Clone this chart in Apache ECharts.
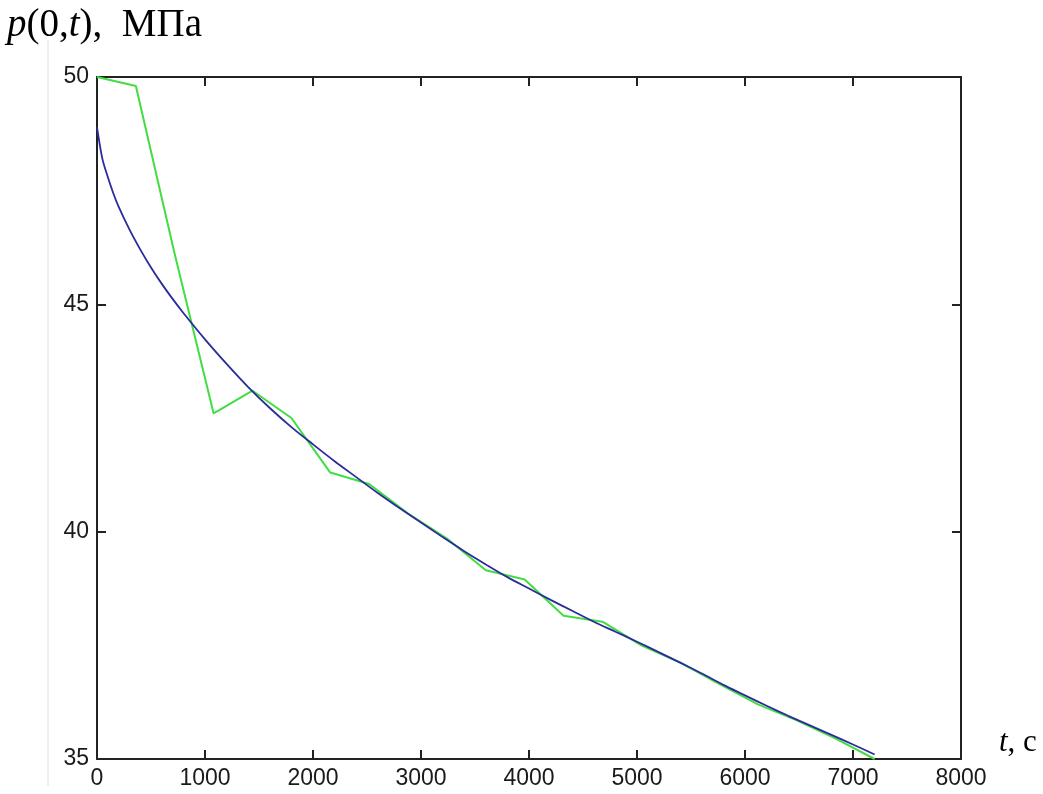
<!DOCTYPE html>
<html><head><meta charset="utf-8">
<script src="https://cdn.jsdelivr.net/npm/echarts@6/dist/echarts.min.js"></script>
<style>html,body{margin:0;padding:0;background:#fff}#c{width:1043px;height:794px}</style>
</head><body><div id="c"></div>
<script>
const xTicks = [0,1000,2000,3000,4000,5000,6000,7000,8000];
const yTicks = [35,40,45,50];
// blue curve (model)
const blueT = [0,50,100,150,200,300,400,500,600,700,800,1000,1200,1400,1600,1800,2000,2200,2400,2600,2800,3000,3200,3400,3600,3800,4000,4200,4400,4600,4800,5000,5200,5400,5600,5800,6000,6200,6400,6600,6800,7000,7200];
const blueP = [48.9,48.2,47.8,47.45,47.15,46.65,46.21,45.81,45.45,45.12,44.81,44.23,43.69,43.18,42.72,42.3,41.92,41.55,41.2,40.85,40.52,40.2,39.88,39.57,39.28,39.0,38.75,38.5,38.26,38.02,37.8,37.58,37.35,37.12,36.88,36.63,36.4,36.17,35.95,35.74,35.53,35.32,35.1];
// green curve (measured)
const greenT = [0,360,720,1080,1440,1800,2160,2520,2880,3240,3600,3960,4320,4680,5040,5400,5760,6120,6480,6840,7200];
const greenP = [50.0,49.8,46.1,42.6,43.1,42.5,41.3,41.05,40.4,39.85,39.15,38.95,38.15,38.02,37.5,37.12,36.65,36.2,35.85,35.45,35.0];

const blueData = blueT.map((t,i)=>[t,blueP[i]]);
const greenData = greenT.map((t,i)=>[t,greenP[i]]);

const chart = echarts.init(document.getElementById('c'), null, {renderer:'canvas'});
const lab = {color:'#1a1a1a', fontFamily:'"Liberation Sans", Arial, sans-serif', fontSize:23};
const axLine = {show:true, onZero:false, lineStyle:{color:'#222', width:2}};
const tick = {inside:true, length:9, lineStyle:{color:'#222', width:2}};
chart.setOption({
  animation:false,
  backgroundColor:'#fff',
  grid:{left:97, top:77, right:82, bottom:35, show:false},
  xAxis:[
    {type:'value', min:xTicks[0], max:xTicks[xTicks.length-1], interval:1000, position:'bottom',
     axisLine:axLine, axisTick:tick,
     axisLabel:Object.assign({margin:8, formatter:v=>String(v)}, lab), splitLine:{show:false}},
    {type:'value', min:xTicks[0], max:xTicks[xTicks.length-1], interval:1000, position:'top',
     axisLine:axLine, axisTick:tick, axisLabel:{show:false}, splitLine:{show:false}}
  ],
  yAxis:[
    {type:'value', min:yTicks[0], max:yTicks[yTicks.length-1], interval:5, position:'left',
     axisLine:axLine, axisTick:tick,
     axisLabel:Object.assign({margin:8, formatter:v=>String(v)}, lab), splitLine:{show:false}},
    {type:'value', min:yTicks[0], max:yTicks[yTicks.length-1], interval:5, position:'right',
     axisLine:axLine, axisTick:tick, axisLabel:{show:false}, splitLine:{show:false}}
  ],
  series:[
    {type:'line', data:greenData, showSymbol:false, lineStyle:{color:'#42dd42', width:2}, z:2},
    {type:'line', data:blueData, showSymbol:false, smooth:0.3, lineStyle:{color:'#2b2b9c', width:1.8}, z:3}
  ],
  graphic:[
    {type:'line', shape:{x1:48, y1:40, x2:48, y2:786}, style:{stroke:'#dcdcf2', lineWidth:1}},
    {type:'text', left:7, top:6, style:{
      text:'{i|p}(0,{i|t}),  МПа',
      font:'39px "Liberation Serif", "Times New Roman", serif', fill:'#000',
      rich:{i:{font:'italic 39px "Liberation Serif", "Times New Roman", serif', fill:'#000'}}
    }},
    {type:'text', left:999, top:727, style:{
      text:'{i|t}, с',
      font:'31px "Liberation Serif", "Times New Roman", serif', fill:'#000',
      rich:{i:{font:'italic 31px "Liberation Serif", "Times New Roman", serif', fill:'#000'}}
    }}
  ]
});
</script></body></html>
